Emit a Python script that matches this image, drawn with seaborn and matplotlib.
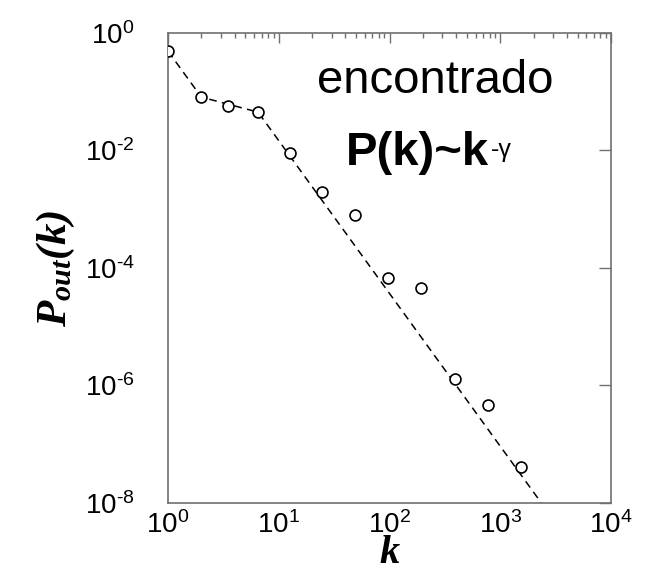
import numpy as np
import pandas as pd
import matplotlib
matplotlib.use("Agg")
import matplotlib.pyplot as plt
import matplotlib.ticker as mticker
import seaborn as sns

# Out-degree distribution of the network (log-binned)
degree_k = [1, 2, 3.5, 6.5, 12.6, 24.6, 49, 97, 192, 389, 775, 1540]
p_out = [0.49, 0.081, 0.057, 0.045, 0.0091, 0.0020, 7.9e-4, 6.8e-5,
         4.6e-5, 1.3e-6, 4.7e-7, 4.1e-8]

# Piecewise guide line: flat head, then power-law tail
fit_k = [1, 2, 6.5, 2350]
fit_p = [0.49, 0.081, 0.045, 1e-8]

x_ticks = [1, 10, 100, 1000, 10000]
y_ticks = [1e-8, 1e-6, 1e-4, 1e-2, 1]

points = pd.DataFrame({"k": degree_k, "p": p_out})
fit = pd.DataFrame({"k": fit_k, "p": fit_p})

sns.set_theme(style="white")
plt.rcParams["font.family"] = ["Liberation Sans", "DejaVu Sans"]
plt.rcParams["axes.unicode_minus"] = False

axis_grey = "#707070"

fig = plt.figure(figsize=(6.47, 5.73), dpi=100)
ax = fig.add_axes([0.2597, 0.1222, 0.6847, 0.8202])

sns.lineplot(data=fit, x="k", y="p", ax=ax, color="black", lw=1.1,
             dashes=False, zorder=2)
ax.lines[-1].set_dashes((5, 3.5))
sns.scatterplot(data=points, x="k", y="p", ax=ax, marker="o", s=62,
                color="white", edgecolor="black", linewidth=1.2, zorder=3)

ax.set_xscale("log")
ax.set_yscale("log")
ax.set_xlim(1, 1e4)
ax.set_ylim(1e-8, 1)


def decade_label(v, _):
    # short hyphen for negative exponents, e.g. 10^-2
    e = int(round(np.log10(v)))
    exp = ("\u2010%d" % -e) if e < 0 else "%d" % e
    return r"$\mathregular{10^{%s}}$" % exp


fmt = mticker.FuncFormatter(decade_label)
ax.xaxis.set_major_locator(mticker.FixedLocator(x_ticks))
ax.xaxis.set_minor_locator(mticker.LogLocator(base=10, subs=np.arange(2, 10)))
ax.xaxis.set_minor_formatter(mticker.NullFormatter())
ax.xaxis.set_major_formatter(fmt)
ax.yaxis.set_major_locator(mticker.FixedLocator(y_ticks))
ax.yaxis.set_minor_locator(mticker.NullLocator())
ax.yaxis.set_major_formatter(fmt)

for sp in ax.spines.values():
    sp.set_color(axis_grey)
    sp.set_linewidth(1.2)

ax.tick_params(which="both", direction="in", top=True, right=True,
               color=axis_grey, width=1.0, labelsize=20, labelcolor="black")
ax.tick_params(axis="x", which="major", length=7.2, pad=6)
ax.tick_params(axis="x", which="minor", length=3.6)
ax.tick_params(axis="y", which="major", length=9, pad=24)

ax.set_xlabel("k", fontfamily="Liberation Serif", fontstyle="italic",
              fontweight="bold", fontsize=29, color="black")
ax.xaxis.set_label_coords(0.5, -0.128)
ax.xaxis.label.set_va("baseline")

ax.set_ylabel(r"$\mathregular{P_{out}(k)}$", fontfamily="Liberation Serif",
              fontstyle="italic", fontweight="bold", fontsize=31,
              color="black")
ax.yaxis.set_label_coords(-0.253, 0.5)
ax.yaxis.label.set_va("center")

ax.text(0.603, 0.872, "encontrado", transform=ax.transAxes, ha="center",
        va="baseline", fontsize=34, color="black")
law = ax.text(0.402, 0.719, "P(k)~k", transform=ax.transAxes, ha="left",
              va="baseline", fontsize=34, fontweight="bold", color="black")
ax.annotate("-γ", xy=(1, 0.719), xycoords=(law, "axes fraction"),
            xytext=(2, 8.5), textcoords="offset pixels", ha="left",
            va="baseline", fontsize=18, color="black")

fig.savefig("out.png", dpi=100)
